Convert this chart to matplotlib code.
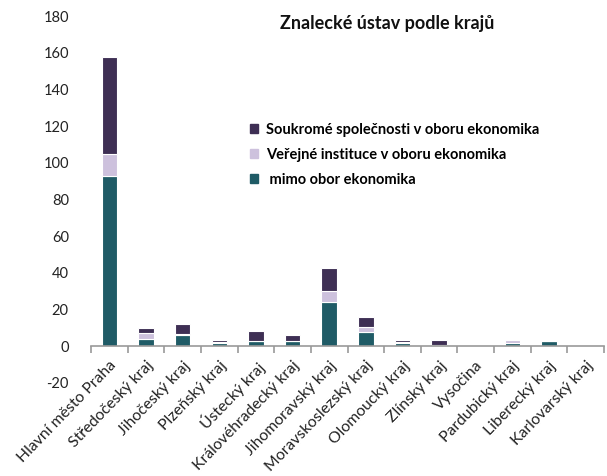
import matplotlib
matplotlib.use("Agg")
import matplotlib.pyplot as plt
import numpy as np

plt.rcParams["font.family"] = ["Lato", "DejaVu Sans"]
plt.rcParams["axes.unicode_minus"] = False

regions = ["Hlavní město Praha", "Středočeský kraj", "Jihočeský kraj", "Plzeňský kraj",
           "Ústecký kraj", "Královéhradecký kraj", "Jihomoravský kraj",
           "Moravskoslezský kraj", "Olomoucký kraj", "Zlínský kraj", "Vysočina",
           "Pardubický kraj", "Liberecký kraj", "Karlovarský kraj"]
mimo = [93, 4, 6, 1.5, 2.5, 2.5, 24, 7.5, 1.7, 0.4, 0.0, 1.7, 2.5, 0.0]
verejne = [12, 3, 0.5, 0.5, 0.3, 0.3, 6, 3, 0.5, 0.3, 0.0, 1.5, 0.0, 0.0]
soukrome = [53, 3, 5.5, 1.5, 5.5, 3.5, 12.5, 5.5, 1.2, 2.5, 0.0, 0.2, 0.0, 0.0]

labels = ["Soukromé společnosti v oboru ekonomika",
          "Veřejné instituce v oboru ekonomika",
          " mimo obor ekonomika"]
colors = ["#3e2f54", "#cdc1dd", "#1f5b66"]

fig = plt.figure(figsize=(6.07, 4.76), dpi=100)
ax = fig.add_axes([0.15, 0.196, 0.845, 0.77])

x = np.arange(len(regions))
b1 = ax.bar(x, mimo, 0.42, color=colors[2], edgecolor="white", linewidth=0.8)
b2 = ax.bar(x, verejne, 0.42, bottom=mimo, color=colors[1], edgecolor="white",
            linewidth=0.8)
bottom2 = np.array(mimo) + np.array(verejne)
b3 = ax.bar(x, soukrome, 0.42, bottom=bottom2, color=colors[0], edgecolor="white",
            linewidth=0.8)

ax.set_xlim(-0.5, len(regions) - 0.5)
ax.set_ylim(-20, 180)
ax.set_yticks(range(-20, 181, 20))
ax.tick_params(axis="y", length=0, labelsize=10.5, colors="#222222", pad=16)

for s in ["top", "right", "left"]:
    ax.spines[s].set_visible(False)
ax.spines["bottom"].set_position(("data", 0))
ax.spines["bottom"].set_color("#999999")
ax.spines["bottom"].set_linewidth(1.2)

ax.set_xticks(x)
ax.set_xticklabels(regions, rotation=46, ha="right", rotation_mode="anchor",
                   fontsize=11.3, color="#222222")
ax.tick_params(axis="x", length=0, pad=9)
ax.set_xticks(np.arange(-0.5, len(regions), 1), minor=True)
ax.tick_params(axis="x", which="minor", length=5, width=1.2, color="#999999")

ax.text(0.577, 0.98, "Znalecké ústav podle krajů", transform=ax.transAxes,
        ha="center", va="center", fontsize=13, fontweight="bold", color="#111111")

leg_handles = [plt.Rectangle((0, 0), 1, 1, color=c) for c in colors]
ax.legend(leg_handles, labels, loc="upper left", bbox_to_anchor=(0.285, 0.745),
          frameon=False, handlelength=0.55, handleheight=0.55,
          handletextpad=0.5, labelspacing=0.75,
          prop={"weight": "bold", "size": 10.5})

fig.savefig("out.png", dpi=100)
